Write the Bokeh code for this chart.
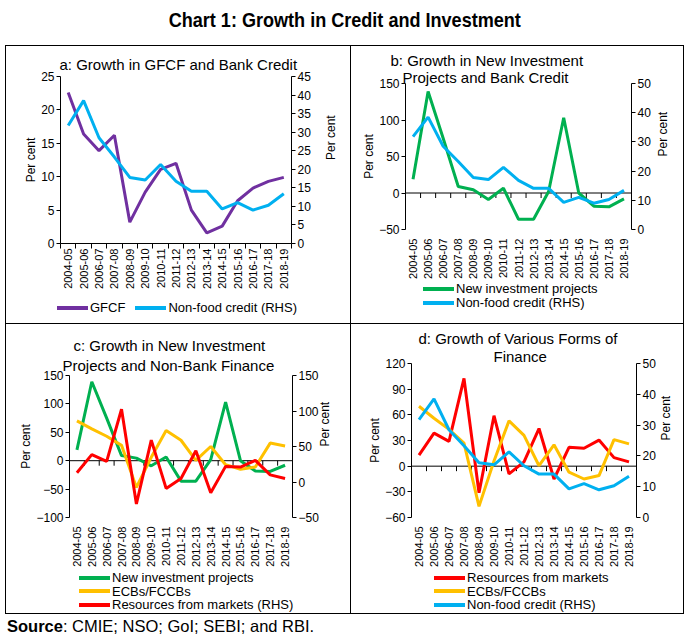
import math
from bokeh.plotting import figure
from bokeh.models import (Range1d, LinearAxis, FixedTicker, Title, Div, Span)
from bokeh.layouts import column, row
from bokeh.embed import file_html
from bokeh.resources import INLINE

# ---------------- data ----------------
years = ["2004-05", "2005-06", "2006-07", "2007-08", "2008-09", "2009-10",
         "2010-11", "2011-12", "2012-13", "2013-14", "2014-15", "2015-16",
         "2016-17", "2017-18", "2018-19"]
gfcf = [22.6, 16.4, 13.9, 16.2, 3.2, 7.7, 11.1, 12.0, 5.0, 1.6, 2.6, 6.4, 8.3, 9.3, 9.9]
non_food_credit = [31.8, 38.5, 28.5, 23.3, 17.8, 17.1, 21.3, 16.8, 14.1, 14.1,
                   9.3, 11.0, 9.0, 10.3, 13.4]
new_investment = [19, 139, 75, 9, 4.5, -9, 6.5, -36, -36, 2, 103, 0, -18, -19, -8]
ecbs_fccbs = [70, 56, 43, 27, -47, 6, 53, 36, 0.5, 25, -7, -15, -11, 31, 26]
resources_markets = [13, 38.6, 29, 102.5, -31, 59, -9, 5, 44, -15, 22, 21, 30.5, 10, 5]

ticks_a_left = [0, 5, 10, 15, 20, 25]
ticks_a_right = [0, 5, 10, 15, 20, 25, 30, 35, 40, 45]
ticks_b_left = [-50, 0, 50, 100, 150]
ticks_b_right = [0, 10, 20, 30, 40, 50]
ticks_c_left = [-100, -50, 0, 50, 100, 150]
ticks_c_right = [-50, 0, 50, 100, 150]
ticks_d_left = [-60, -30, 0, 30, 60, 90, 120]
ticks_d_right = [0, 10, 20, 30, 40, 50]

title_a = ["a: Growth in GFCF and Bank Credit"]
title_b = ["b: Growth in New Investment", "Projects and Bank Credit"]
title_c = ["c: Growth in New Investment", "Projects and Non-Bank Finance"]
title_d = ["d: Growth of Various Forms of", "Finance"]

PURPLE = "#7030A0"
BLUE = "#00B0F0"
GREEN = "#00B050"
YELLOW = "#FFC000"
RED = "#FF0000"
FONT = "Liberation Sans"

xs = list(range(len(years)))
bounds = [i - 0.5 for i in range(len(years) + 1)]


def style_title(t, text, off, st):
    t.text = text
    t.align = "left"
    t.offset = off
    t.standoff = st
    t.text_font = FONT
    t.text_font_size = "15px"
    t.text_font_style = "normal"
    t.text_color = "black"


def shadow(sides):
    parts = []
    if "l" in sides:
        parts.append("inset 1px 0 0 0 #000")
    if "r" in sides:
        parts.append("inset -1px 0 0 0 #000")
    if "t" in sides:
        parts.append("inset 0 1px 0 0 #000")
    return ", ".join(parts)


def make_panel(w, h, borders, ylim, yticks, rlim, rticks, zero,
               lstand, rstand, tlines, toffs, tstands, sides):
    p = figure(width=w, height=h, output_backend="svg", toolbar_location=None,
               x_range=Range1d(-0.5, len(years) - 0.5), y_range=Range1d(*ylim),
               min_border_left=borders[0], min_border_right=borders[1],
               min_border_top=borders[2], min_border_bottom=borders[3],
               outline_line_color=None, border_fill_color=None,
               background_fill_color=None,
               styles={"box-shadow": shadow(sides)})
    p.frame_align = False
    # p.title is drawn furthest from the frame; added titles sit nearer to it
    style_title(p.title, tlines[0], toffs[0], tstands[0])
    for text, off, st in zip(tlines[1:], toffs[1:], tstands[1:]):
        t = Title()
        style_title(t, text, off, st)
        p.add_layout(t, "above")
    p.xgrid.visible = False
    p.ygrid.visible = False
    p.extra_y_ranges = {"rhs": Range1d(*rlim)}
    rax = LinearAxis(y_range_name="rhs", ticker=FixedTicker(ticks=rticks),
                     axis_label="Per cent")
    p.add_layout(rax, "right")
    p.yaxis[0].ticker = FixedTicker(ticks=yticks)
    p.yaxis[0].axis_label = "Per cent"
    for ax in p.yaxis:
        ax.axis_line_color = "black"
        ax.major_tick_line_color = "black"
        ax.major_tick_out = 4
        ax.major_tick_in = 0
        ax.minor_tick_line_color = None
        ax.major_label_text_font = FONT
        ax.major_label_text_font_size = "12px"
        ax.major_label_text_color = "black"
        ax.major_label_standoff = 2
        ax.axis_label_text_font = FONT
        ax.axis_label_text_font_size = "12px"
        ax.axis_label_text_font_style = "normal"
        ax.axis_label_text_color = "black"
    p.yaxis[0].axis_label_standoff = lstand
    rax.axis_label_standoff = rstand
    if hasattr(rax, "axis_label_orientation"):
        try:
            rax.axis_label_orientation = math.pi / 2
        except Exception:
            pass
    xa = p.xaxis[0]
    xa.ticker = FixedTicker(ticks=xs, minor_ticks=bounds)
    xa.major_label_overrides = {i: y for i, y in enumerate(years)}
    xa.major_label_orientation = math.pi / 2
    xa.major_label_text_font = FONT
    xa.major_label_text_font_size = "11px"
    xa.major_label_text_color = "black"
    xa.major_tick_line_color = None
    xa.major_tick_in = 0
    if zero:
        xa.axis_line_color = None
        xa.minor_tick_line_color = None
        xa.major_tick_out = 0
        xa.minor_tick_out = 0
        xa.major_label_standoff = 9
        p.add_layout(Span(location=0, dimension="width", line_color="black",
                          line_width=1, level="underlay"))
        p.ray(x=bounds, y=[0] * len(bounds), length=5, length_units="screen",
              angle=-math.pi / 2, line_color="black", line_width=1)
    else:
        xa.axis_line_color = "black"
        xa.minor_tick_line_color = "black"
        xa.minor_tick_out = 5
        xa.minor_tick_in = 0
        xa.major_tick_out = 5
        xa.major_label_standoff = 0
    return p


def legend_div(width, height, items, left, pad_top, line_h, sides,
               horizontal=False, gap=0):
    parts = []
    for label, color in items:
        sw = ('<span style="display:inline-block;width:31px;height:4px;'
              'background:%s;vertical-align:middle;margin-right:2px;'
              'position:relative;top:-1px;"></span>' % color)
        parts.append(sw + label)
    borders = ""
    if "l" in sides:
        borders += "border-left:1px solid #000;"
        left -= 1
    if "r" in sides:
        borders += "border-right:1px solid #000;"
    if "b" in sides:
        borders += "border-bottom:1px solid #000;"
    style_common = ("font-family:'Liberation Sans',Arial,sans-serif;font-size:13px;"
                    "color:#000;white-space:nowrap;line-height:%spx;overflow:hidden;"
                    "width:%dpx;height:%dpx;box-sizing:border-box;%s"
                    % (line_h, width, height, borders))
    if horizontal:
        inner = ('<div style="%spadding-left:%dpx;padding-top:%dpx;">' % (style_common, left, pad_top)
                 + ('<span style="display:inline-block;width:%dpx"></span>' % gap).join(parts)
                 + '</div>')
    else:
        inner = ('<div style="%spadding-left:%dpx;padding-top:%dpx;">' % (style_common, left, pad_top)
                 + ''.join('<div style="height:%spx">%s</div>' % (line_h, s) for s in parts)
                 + '</div>')
    return Div(text=inner, width=width, height=height, margin=0)


def blank(w, h):
    return Div(text="", width=w, height=h, margin=0)


LW = 3

# Panel a  (x 5-351, y 45-323)
pa = make_panel(346, 250, (55, 60, 31, 52), (0, 25), ticks_a_left, (0, 45),
                ticks_a_right, False, 0, 17, title_a, [-1], [7], "lrt")
pa.line(xs, gfcf, line_color=PURPLE, line_width=LW)
pa.line(xs, non_food_credit, line_color=BLUE, line_width=LW, y_range_name="rhs")
la = legend_div(346, 28, [("GFCF", PURPLE), ("Non-food credit (RHS)", BLUE)],
                52, 5, 16, "lr", horizontal=True, gap=10)

# Panel b  (x 351-684, y 45-323)
pb = make_panel(333, 237, (54, 53, 38, 53), (-50, 150), ticks_b_left, (0, 50),
                ticks_b_right, True, 0, 9, title_b, [-15, -3], [0, -4], "rt")
pb.line(xs, new_investment, line_color=GREEN, line_width=LW)
pb.line(xs, non_food_credit, line_color=BLUE, line_width=LW, y_range_name="rhs")
lb = legend_div(333, 41, [("New investment projects", GREEN),
                          ("Non-food credit (RHS)", BLUE)], 72, 0, 14, "r")

# Panel c  (x 5-351, y 323-614)
pc = make_panel(346, 248, (64, 59, 52, 54), (-100, 150), ticks_c_left, (-50, 150),
                ticks_c_right, True, 0, 3, title_c, [4, -7], [0, 3], "lrt")
pc.line(xs, new_investment, line_color=GREEN, line_width=LW)
pc.line(xs, ecbs_fccbs, line_color=YELLOW, line_width=LW)
pc.line(xs, resources_markets, line_color=RED, line_width=LW, y_range_name="rhs")
lc = legend_div(346, 43, [("New investment projects", GREEN), ("ECBs/FCCBs", YELLOW),
                          ("Resources from markets (RHS)", RED)], 74, 0, 13.5, "lrb")

# Panel d  (x 351-684, y 323-614)
pd_ = make_panel(333, 248, (60, 48, 40, 54), (-60, 120), ticks_d_left, (0, 50),
                 ticks_d_right, True, 0, 7, title_d, [7, 82], [0, -2], "rt")
pd_.line(xs, resources_markets, line_color=RED, line_width=LW)
pd_.line(xs, ecbs_fccbs, line_color=YELLOW, line_width=LW)
pd_.line(xs, non_food_credit, line_color=BLUE, line_width=LW, y_range_name="rhs")
ld = legend_div(333, 43, [("Resources from markets", RED), ("ECBs/FCCBs", YELLOW),
                          ("Non-food credit (RHS)", BLUE)], 83, 0, 13.5, "rb")

title_div = Div(text=('<div style="font-family: \'Liberation Sans\', Arial, sans-serif; '
                      'font-weight: bold; font-size: 21px; line-height: 24px; '
                      'text-align: center; width: 689px; padding-top: 8px;">'
                      '<span style="display: inline-block; transform: scaleX(0.86);">'
                      'Chart 1: Growth in Credit and Investment</span></div>'),
                width=689, height=45, margin=0)
source_div = Div(text=('<div style="font-family: \'Liberation Sans\', Arial, sans-serif; '
                       'font-size: 16.5px; line-height: 20px; white-space: nowrap; '
                       'padding-left: 7px; padding-top: 2px;">'
                       '<b>Source</b>: CMIE; NSO; GoI; SEBI; and RBI.</div>'),
                 width=689, height=22, margin=0)

row1 = row(blank(5, 278), column(pa, la), column(pb, lb))
row2 = row(blank(5, 291), column(pc, lc), column(pd_, ld))

layout = column(title_div, row1, row2, source_div)

open("out.html", "w").write(file_html(layout, INLINE))
